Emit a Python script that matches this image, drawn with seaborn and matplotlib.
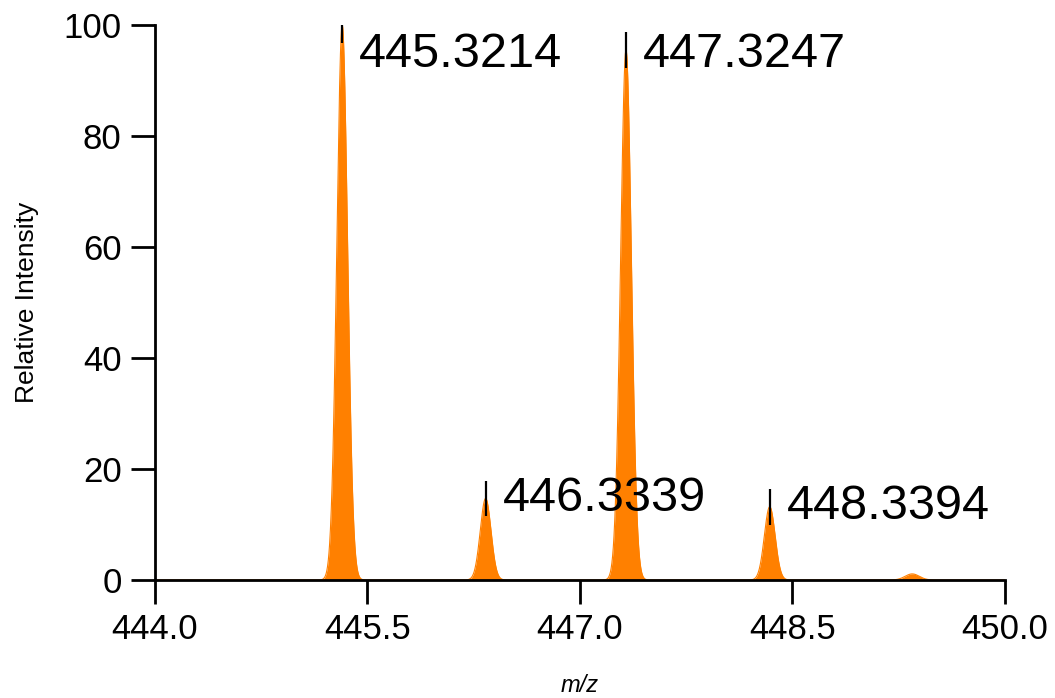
import numpy as np
import pandas as pd
import matplotlib
matplotlib.use("Agg")
import matplotlib.pyplot as plt
import seaborn as sns

# ---- data ----
peak_mz = [445.3214, 446.3339, 447.3247, 448.3394, 449.345]
peak_intensity = [100.0, 14.7, 95.5, 13.2, 1.1]
peak_sigma = [0.038, 0.038, 0.038, 0.038, 0.05]
peak_labels = ["445.3214", "446.3339", "447.3247", "448.3394", None]
x_ticks = [444.0, 445.5, 447.0, 448.5, 450.0]
y_ticks = [0, 20, 40, 60, 80, 100]

# build profile spectrum from the peak list
mz = np.linspace(444.0, 450.0, 6001)
inten = np.zeros_like(mz)
for c, h, s in zip(peak_mz, peak_intensity, peak_sigma):
    inten += h * np.exp(-0.5 * ((mz - c) / s) ** 2)
df = pd.DataFrame({"mz": mz, "intensity": inten})

sns.set_style("ticks")
plt.rcParams["font.family"] = ["Liberation Sans", "DejaVu Sans"]
plt.rcParams["text.color"] = "black"

fig = plt.figure(figsize=(10.55, 6.98), dpi=100)
ax = fig.add_axes([155 / 1055, 1 - 580 / 698, 850 / 1055, 555 / 698])

orange = "#FF8000"
ax.fill_between(df["mz"], 0, df["intensity"], color=orange, linewidth=0, zorder=2)
sns.lineplot(data=df, x="mz", y="intensity", ax=ax, color=orange, linewidth=0.8, zorder=2)

# marker lines and labels
half = 3.2
for c, h, lab in zip(peak_mz, peak_intensity, peak_labels):
    if lab is None:
        continue
    ax.vlines(c, h - half, h + half, color="black", linewidth=1.6, zorder=3)
    ty = min(h, 94.6)
    ax.text(c + 0.12, ty, lab, fontsize=35, va="center", ha="left", color="black", zorder=4)

ax.set_xlim(444.0, 450.0)
ax.set_ylim(0, 100)
ax.set_xticks(x_ticks)
ax.set_xticklabels([f"{v:.1f}" for v in x_ticks])
ax.set_yticks(y_ticks)
ax.set_yticklabels([str(v) for v in y_ticks])
ax.tick_params(axis="both", labelsize=25, length=17, width=2, color="black", labelcolor="black", pad=7)

for sp in ["top", "right"]:
    ax.spines[sp].set_visible(False)
for sp in ["left", "bottom"]:
    ax.spines[sp].set_linewidth(2)
    ax.spines[sp].set_color("black")

ax.set_xlabel("m/z", fontsize=17, fontstyle="italic", labelpad=20, color="black")
ax.set_ylabel("Relative Intensity", fontsize=19, labelpad=18, color="black")

fig.savefig("out.png", dpi=100, facecolor="white")
